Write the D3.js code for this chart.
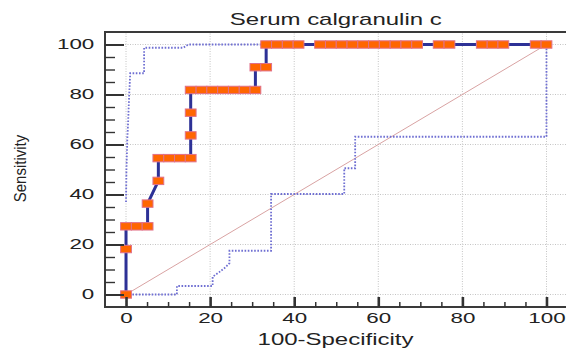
<!DOCTYPE html>
<html><head><meta charset="utf-8">
<script src="https://cdn.jsdelivr.net/npm/d3@7"></script>
<style>body{margin:0;background:#fff} svg{display:block}</style>
</head><body><svg id="c" width="566" height="349"></svg>
<script>
const titleText = "Serum calgranulin c";
const xLabelText = "100-Specificity";
const yLabelText = "Sensitivity";
const majorTicks = [0, 20, 40, 60, 80, 100];
const minorTicks = [5,10,15,25,30,35,45,50,55,65,70,75,85,90,95];

// ROC curve (100-Specificity, Sensitivity)
const rocFpr  = [0,0,0,2.56,5.13,5.13,7.69,7.69,10.26,12.82,15.38,15.38,15.38,15.38,17.95,20.51,23.08,25.64,28.21,30.77,30.77,33.33,
                 33.33,35.90,38.46,41.03,46.15,48.72,51.28,53.85,56.41,58.97,61.54,64.10,66.67,69.23,74.36,76.92,84.62,87.18,89.74,97.44,100];
const rocSens = [0,18.18,27.27,27.27,27.27,36.36,45.45,54.55,54.55,54.55,54.55,63.64,72.73,81.82,81.82,81.82,81.82,81.82,81.82,81.82,90.91,90.91,
                 100,100,100,100,100,100,100,100,100,100,100,100,100,100,100,100,100,100,100,100,100];

// Upper confidence bound
const upFpr  = [0,0.1,0.3,0.5,0.7,1.0,4.3,4.3,13.6,14.8,100];
const upSens = [37,50,62,69,78,88.5,88.5,98.7,98.7,100,100];
// Lower confidence bound
const loFpr  = [0,12.1,12.1,20.6,20.6,22.2,23.6,24.6,24.6,34.5,34.5,51.9,51.9,54.5,54.5,100,100];
const loSens = [0,0,3.4,3.4,7.1,9.0,10.8,12.5,17.5,17.5,40.2,40.2,50.5,50.5,63.1,63.1,100];

const svg = d3.select("#c");
const x = d3.scaleLinear().domain([-5,105]).range([105,567.5]);
const y = d3.scaleLinear().domain([-5,105]).range([307,32]);
const FONT = "'Liberation Sans', Arial, Helvetica, sans-serif";

// grid
const grid = svg.append("g").attr("stroke","#c4c4c4").attr("stroke-width",1).attr("stroke-dasharray","1,1.5");
majorTicks.forEach(v=>{
  grid.append("line").attr("x1",x(v)).attr("x2",x(v)).attr("y1",y(-5)).attr("y2",y(105));
  grid.append("line").attr("y1",y(v)).attr("y2",y(v)).attr("x1",x(-5)).attr("x2",x(105));
});

// diagonal
svg.append("line").attr("x1",x(0)).attr("y1",y(0)).attr("x2",x(100)).attr("y2",y(100))
  .attr("stroke","#d9a3a3").attr("stroke-width",1);

const line = d3.line().x(d=>x(d[0])).y(d=>y(d[1]));
const band = (fx, sy) => fx.map((v,i)=>[v, sy[i]]);
svg.append("path").attr("d", line(band(upFpr, upSens))).attr("fill","none")
  .attr("stroke","#6f6fd2").attr("stroke-width",1.8).attr("stroke-dasharray","1.6,1.6");
svg.append("path").attr("d", line(band(loFpr, loSens))).attr("fill","none")
  .attr("stroke","#6f6fd2").attr("stroke-width",1.8).attr("stroke-dasharray","1.6,1.6");

const roc = band(rocFpr, rocSens);
svg.append("path").attr("d", line(roc)).attr("fill","none")
  .attr("stroke","#2d3196").attr("stroke-width",3);

const mw = 10.8, mh = 7.4;
svg.append("g").selectAll("rect").data(roc).join("rect")
  .attr("x", d=>x(d[0])-mw/2).attr("y", d=>y(d[1])-mh/2)
  .attr("width", mw).attr("height", mh)
  .attr("fill","#ff6600").attr("stroke","#e0708a").attr("stroke-width",1);

// frame
svg.append("rect").attr("x",x(-5)).attr("y",y(105)).attr("width",x(105)-x(-5)).attr("height",y(-5)-y(105))
  .attr("fill","none").attr("stroke","#3a3a3a").attr("stroke-width",2);

// axes
const sxTick = 1.6;
const gb = svg.append("g").attr("transform",`translate(0,${y(-5)})`);
gb.call(d3.axisBottom(x).tickValues(minorTicks).tickSize(-5).tickFormat(""));
gb.call(g=>g.selectAll(".tick line").attr("stroke","#333").attr("stroke-width",1.5));
const gbM = svg.append("g").attr("transform",`translate(0,${y(-5)})`);
gbM.call(d3.axisBottom(x).tickValues(majorTicks).tickSize(-10).tickPadding(6));
gbM.selectAll(".tick line").attr("stroke","#333").attr("stroke-width",2.6);
gbM.selectAll(".tick text").attr("y",0).attr("transform",`translate(0,6) scale(${sxTick},1)`)
  .attr("font-family",FONT).attr("font-size",14).attr("fill","#222");
svg.selectAll(".domain").remove();

const gl = svg.append("g").attr("transform",`translate(${x(-5)},0)`);
gl.call(d3.axisLeft(y).tickValues(minorTicks).tickSize(-10).tickFormat(""));
gl.selectAll(".tick line").attr("stroke","#333").attr("stroke-width",1.4);
const glM = svg.append("g").attr("transform",`translate(${x(-5)},0)`);
glM.call(d3.axisLeft(y).tickValues(majorTicks).tickSize(-19).tickPadding(10.7));
glM.selectAll(".tick line").attr("stroke","#333").attr("stroke-width",2);
glM.selectAll(".tick text").attr("x",0).attr("transform",`translate(-10.7,0) scale(${sxTick},1)`)
  .attr("font-family",FONT).attr("font-size",14).attr("fill","#222");
svg.selectAll(".domain").remove();

// texts
svg.append("text").attr("transform","translate(335.8,24.5) scale(1.5,1)")
  .attr("text-anchor","middle").attr("font-family",FONT).attr("font-size",16).attr("fill","#222").text(titleText);
svg.append("text").attr("transform","translate(335.5,345) scale(1.5,1)")
  .attr("text-anchor","middle").attr("font-family",FONT).attr("font-size",16).attr("fill","#222").text(xLabelText);
svg.append("text").attr("transform","translate(25.5,168.5) scale(1.15,1) rotate(-90)")
  .attr("text-anchor","middle").attr("font-family",FONT).attr("font-size",15).attr("fill","#222").text(yLabelText);
</script></body></html>
